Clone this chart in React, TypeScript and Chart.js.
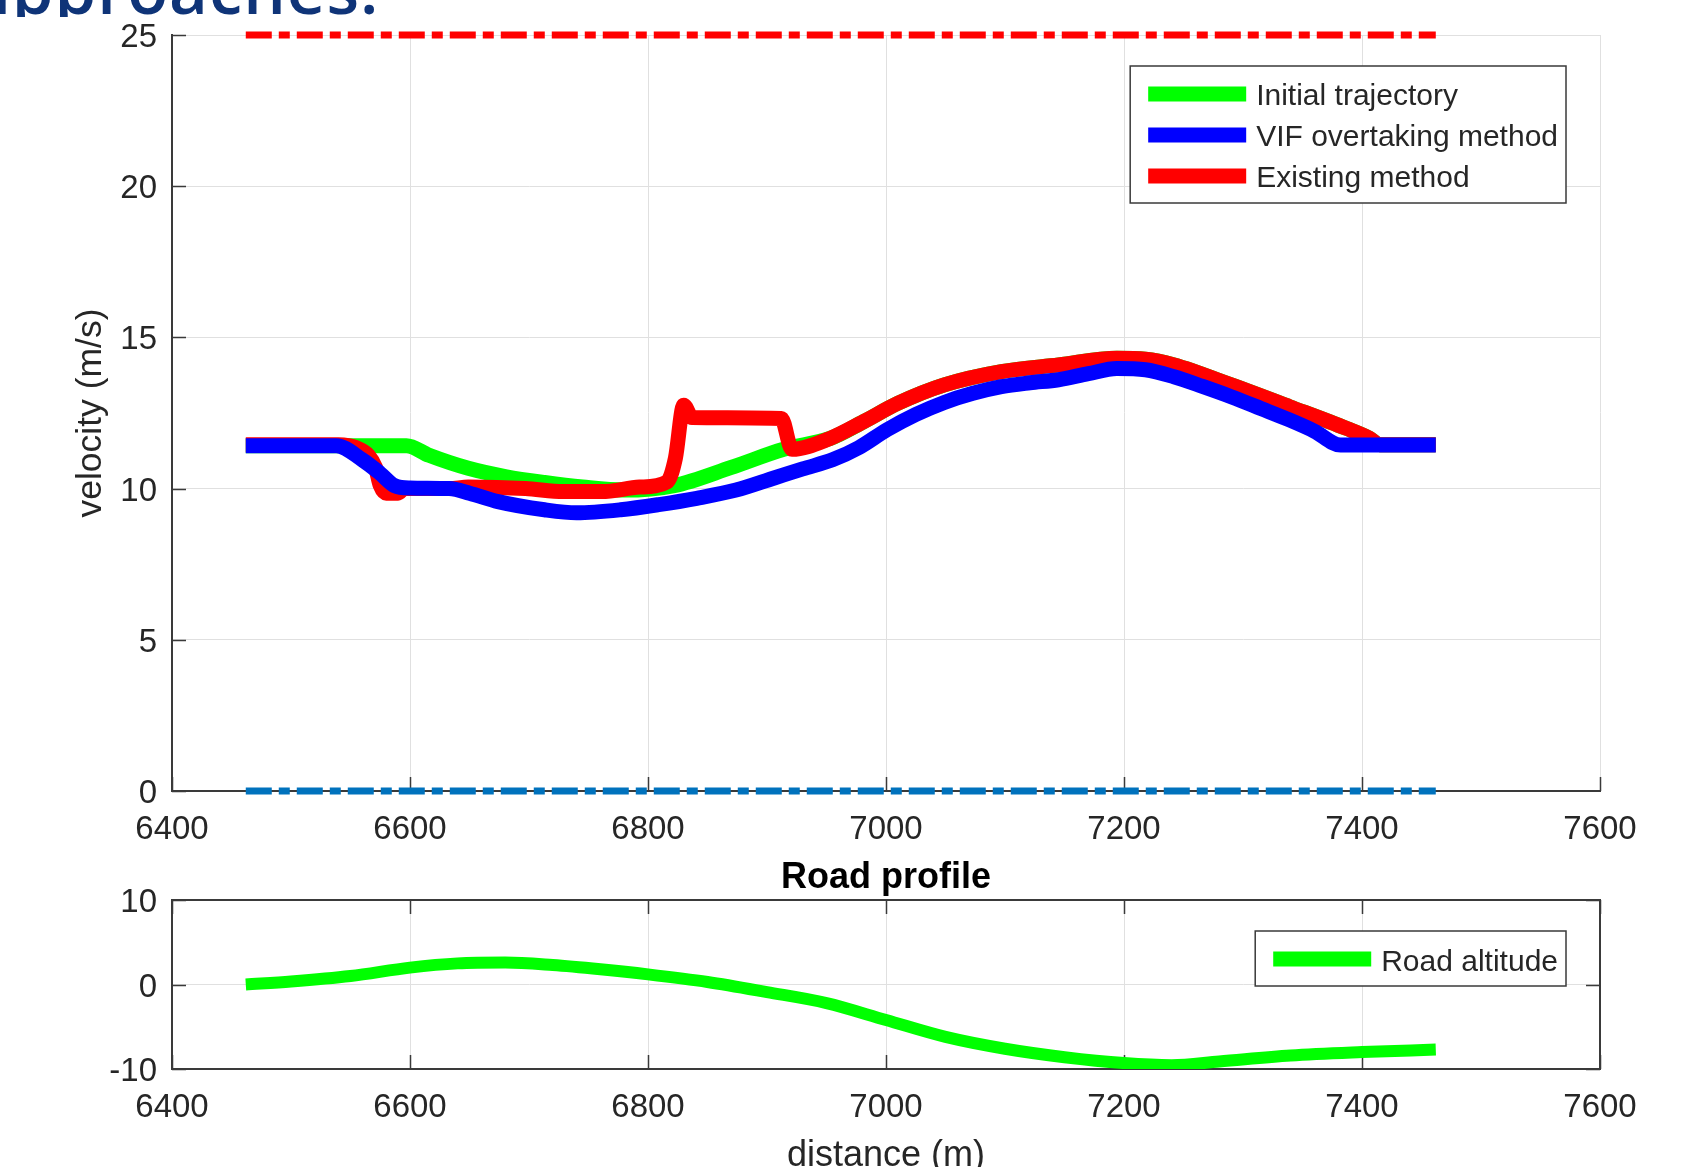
import React, { useEffect, useRef } from "react";
import { Chart, registerables } from "chart.js";

Chart.register(...registerables);

// ---------- data ----------
const X_TICKS = [6400, 6600, 6800, 7000, 7200, 7400, 7600];
const V_TICKS = [0, 5, 10, 15, 20, 25];
const ALT_TICKS = [-10, 0, 10];

const initialX = [6462, 6597, 6616, 6649, 6681, 6713, 6745, 6780, 6822, 6870, 6914, 6953, 6981, 7010, 7049, 7097, 7145, 7194, 7218, 7242, 7290, 7339, 7387, 7406, 7415, 7462];
const initialV = [11.42, 11.42, 11.1, 10.67, 10.39, 10.2, 10.05, 9.95, 10.1, 10.7, 11.3, 11.66, 12.21, 12.82, 13.43, 13.87, 14.09, 14.31, 14.28, 14.09, 13.43, 12.71, 11.99, 11.67, 11.45, 11.45];

const vifX = [6462, 6538, 6560, 6575, 6587, 6600, 6633, 6650, 6674, 6713, 6740, 6777, 6809, 6841, 6874, 6906, 6930, 6955, 6977, 7001, 7025, 7049, 7073, 7097, 7121, 7145, 7170, 7194, 7218, 7242, 7266, 7290, 7315, 7339, 7360, 7382, 7462];
const vifV = [11.42, 11.42, 10.95, 10.5, 10.1, 10.02, 10.0, 9.85, 9.57, 9.3, 9.2, 9.3, 9.47, 9.68, 9.95, 10.35, 10.65, 10.95, 11.35, 11.95, 12.45, 12.85, 13.15, 13.37, 13.5, 13.6, 13.8, 13.97, 13.93, 13.7, 13.38, 13.04, 12.65, 12.27, 11.9, 11.44, 11.44];

const existingX = [6462, 6540, 6555, 6565, 6571, 6575, 6580, 6590, 6595, 6633, 6649, 6697, 6729, 6761, 6793, 6816, 6823, 6830, 6837, 6912, 6921, 6953, 6981, 7010, 7049, 7097, 7145, 7194, 7218, 7242, 7290, 7339, 7387, 7406, 7415, 7462];
const existingV = [11.45, 11.45, 11.35, 11.1, 10.7, 10.1, 9.85, 9.85, 10.0, 10.0, 10.05, 10.0, 9.9, 9.9, 10.05, 10.22, 11.0, 12.76, 12.35, 12.32, 11.3, 11.66, 12.21, 12.82, 13.43, 13.87, 14.09, 14.31, 14.28, 14.09, 13.43, 12.71, 11.99, 11.67, 11.45, 11.45];

const limitX = [6462, 7462];
const upperLimitV = [25, 25];
const lowerLimitV = [0, 0];

const roadX = [6462, 6500, 6550, 6600, 6640, 6680, 6720, 6760, 6800, 6850, 6900, 6950, 7000, 7050, 7100, 7150, 7200, 7240, 7280, 7340, 7400, 7462];
const roadAlt = [0.0, 0.35, 1.0, 2.0, 2.5, 2.6, 2.3, 1.8, 1.2, 0.3, -0.9, -2.2, -4.2, -6.2, -7.6, -8.6, -9.3, -9.55, -9.1, -8.4, -8.0, -7.7];

// ---------- styling ----------
const FONT = "'Liberation Sans', Arial, Helvetica, sans-serif";
const TEXT = "#262626";
const GRID = "#e0e0e0";
const AXIS = "#3a3a3a";

const pts = (xs: number[], ys: number[]) => xs.map((x, i) => ({ x, y: ys[i] }));

const matlabAxes = {
  id: "matlabAxes",
  beforeDatasetsDraw(chart: any, _args: any, opts: any) {
    const { ctx, chartArea: a, scales } = chart;
    const x = scales.x, y = scales.y;
    const len = opts.tickLength;
    ctx.save();
    ctx.strokeStyle = AXIS;
    ctx.lineWidth = 1.5;
    ctx.beginPath();
    x.ticks.forEach((t: any) => {
      const px = Math.round(x.getPixelForValue(t.value)) + 0.5;
      ctx.moveTo(px, a.bottom);
      ctx.lineTo(px, a.bottom - len);
      if (opts.box) {
        ctx.moveTo(px, a.top);
        ctx.lineTo(px, a.top + len);
      }
    });
    y.ticks.forEach((t: any) => {
      const py = Math.round(y.getPixelForValue(t.value)) + 0.5;
      ctx.moveTo(a.left, py);
      ctx.lineTo(a.left + len, py);
      if (opts.box) {
        ctx.moveTo(a.right, py);
        ctx.lineTo(a.right - len, py);
      }
    });
    ctx.stroke();
    if (opts.box) {
      ctx.lineWidth = 2;
      ctx.beginPath();
      ctx.moveTo(a.left, a.top);
      ctx.lineTo(a.right, a.top);
      ctx.lineTo(a.right, a.bottom);
      ctx.stroke();
    }
    ctx.restore();
  },
};

const boxLegend = {
  id: "boxLegend",
  afterDatasetsDraw(chart: any, _args: any, opts: any) {
    const { ctx, chartArea: a } = chart;
    const items = (opts.labels as string[]).map((lab) => {
      const ds = chart.data.datasets.find((d: any) => d.label === lab);
      return { label: lab, color: ds ? ds.borderColor : "#000" };
    });
    ctx.save();
    ctx.font = `${opts.fontSize}px ${FONT}`;
    const textW = Math.max(...items.map((i) => ctx.measureText(i.label).width));
    const w = 18 + 98 + 10 + textW + 8;
    const h = items.length * 41 + 14;
    const right = a.right - 34;
    const top = a.top + 31;
    const left = right - w;
    ctx.fillStyle = "#ffffff";
    ctx.fillRect(left, top, w, h);
    ctx.strokeStyle = AXIS;
    ctx.lineWidth = 1.5;
    ctx.strokeRect(left, top, w, h);
    items.forEach((it, i) => {
      const yy = top + 28 + i * 41;
      ctx.strokeStyle = it.color;
      ctx.lineWidth = 15;
      ctx.lineCap = "butt";
      ctx.beginPath();
      ctx.moveTo(left + 18, yy);
      ctx.lineTo(left + 116, yy);
      ctx.stroke();
      ctx.fillStyle = TEXT;
      ctx.textBaseline = "middle";
      ctx.textAlign = "left";
      ctx.fillText(it.label, left + 126, yy + opts.textShift);
    });
    ctx.restore();
  },
};

const tickFont = { family: FONT, size: 33 };
const labelFont = { family: FONT, size: 36 };

const fixedTicks = (vals: number[]) => (axis: any) => {
  axis.ticks = vals.map((v) => ({ value: v }));
};

export default function App() {
  const topRef = useRef<HTMLCanvasElement>(null);
  const botRef = useRef<HTMLCanvasElement>(null);

  useEffect(() => {
    const thick = {
      pointRadius: 0,
      borderWidth: 15,
      cubicInterpolationMode: "monotone" as const,
      borderJoinStyle: "round" as const,
      borderCapStyle: "butt" as const,
      fill: false,
    };
    const dashed = {
      pointRadius: 0,
      borderWidth: 7,
      borderDash: [26, 7, 11, 7],
      borderCapStyle: "butt" as const,
      fill: false,
      clip: false as any,
    };

    const topChart = new Chart(topRef.current!, {
      type: "line",
      data: {
        datasets: [
          { ...thick, label: "Initial trajectory", data: pts(initialX, initialV), borderColor: "#00ff00", order: 3 },
          { ...thick, label: "VIF overtaking method", data: pts(vifX, vifV), borderColor: "#0000ff", order: 1 },
          { ...thick, label: "Existing method", data: pts(existingX, existingV), borderColor: "#ff0000", order: 2 },
          { ...dashed, label: "upper", data: pts(limitX, upperLimitV), borderColor: "#ff0000", order: 4 },
          { ...dashed, label: "lower", data: pts(limitX, lowerLimitV), borderColor: "#0072bd", order: 4 },
        ],
      },
      options: {
        animation: false,
        responsive: false,
        maintainAspectRatio: false,
        events: [],
        layout: { padding: { left: 0, right: 88, top: 35, bottom: 0 } },
        plugins: {
          legend: { display: false },
          tooltip: { enabled: false },
          title: { display: false },
          matlabAxes: { tickLength: 14, box: false },
          boxLegend: { labels: ["Initial trajectory", "VIF overtaking method", "Existing method"], fontSize: 30, textShift: 3 },
        } as any,
        scales: {
          x: {
            type: "linear",
            min: 6400,
            max: 7600,
            afterBuildTicks: fixedTicks(X_TICKS),
            afterFit: (s: any) => { s.height = 59; },
            grid: { color: GRID, lineWidth: 1, drawTicks: false },
            border: { display: true, color: AXIS, width: 2 },
            ticks: { padding: 19, font: tickFont, color: TEXT, maxRotation: 0, autoSkip: false, callback: (v: any) => String(v) },
          },
          y: {
            type: "linear",
            min: 0,
            max: 25,
            afterBuildTicks: fixedTicks(V_TICKS),
            afterFit: (s: any) => { s.width = 172; },
            grid: { color: GRID, lineWidth: 1, drawTicks: false },
            border: { display: true, color: AXIS, width: 2 },
            ticks: { padding: 15, labelOffset: 3, font: tickFont, color: TEXT, callback: (v: any) => String(v) },
            title: { display: true, text: "velocity (m/s)", font: { family: FONT, size: 35.5 }, color: TEXT, padding: { top: 70, bottom: 0 } },
          },
        },
      },
      plugins: [matlabAxes, boxLegend],
    });

    const botChart = new Chart(botRef.current!, {
      type: "line",
      data: {
        datasets: [
          { ...thick, borderWidth: 12, label: "Road altitude", data: pts(roadX, roadAlt), borderColor: "#00ff00" },
        ],
      },
      options: {
        animation: false,
        responsive: false,
        maintainAspectRatio: false,
        events: [],
        layout: { padding: { left: 0, right: 88, top: 0, bottom: 0 } },
        plugins: {
          legend: { display: false },
          tooltip: { enabled: false },
          title: {
            display: true,
            fullSize: false,
            text: "Road profile",
            font: { family: FONT, size: 36, weight: "bold" },
            color: "#000000",
            padding: { top: 6.3, bottom: 0.5 },
          },
          matlabAxes: { tickLength: 14, box: true },
          boxLegend: { labels: ["Road altitude"], fontSize: 30, textShift: 4 },
        } as any,
        scales: {
          x: {
            type: "linear",
            min: 6400,
            max: 7600,
            afterBuildTicks: fixedTicks(X_TICKS),
            afterFit: (s: any) => { s.height = 121; },
            grid: { color: GRID, lineWidth: 1, drawTicks: false },
            border: { display: true, color: AXIS, width: 2 },
            ticks: { padding: 19.5, font: tickFont, color: TEXT, maxRotation: 0, autoSkip: false, callback: (v: any) => String(v) },
            title: { display: true, text: "distance (m)", font: labelFont, color: TEXT, padding: { top: 0, bottom: 12.4 } },
          },
          y: {
            type: "linear",
            min: -10,
            max: 10,
            afterBuildTicks: fixedTicks(ALT_TICKS),
            afterFit: (s: any) => { s.width = 172; },
            grid: { color: GRID, lineWidth: 1, drawTicks: false },
            border: { display: true, color: AXIS, width: 2 },
            ticks: { padding: 15, labelOffset: 3, font: tickFont, color: TEXT, callback: (v: any) => String(v) },
          },
        },
      },
      plugins: [matlabAxes, boxLegend],
    });

    return () => {
      topChart.destroy();
      botChart.destroy();
    };
  }, []);

  return (
    <div style={{ position: "absolute", left: 0, top: 0, width: 1688, height: 1167, overflow: "hidden", background: "#ffffff" }}>
      <canvas ref={topRef} width={1688} height={850} style={{ position: "absolute", left: 0, top: 0, display: "block" }} />
      <canvas ref={botRef} width={1688} height={340} style={{ position: "absolute", left: 0, top: 850, display: "block" }} />
      <svg width={420} height={17} style={{ position: "absolute", left: 0, top: 0, overflow: "hidden" }}>
        <text x={-28} y={14} fill="#0f3478" fontFamily="'Open Sans', 'Noto Sans', sans-serif" fontWeight={600} fontSize={67} letterSpacing={1}>
          approaches.
        </text>
      </svg>
    </div>
  );
}
